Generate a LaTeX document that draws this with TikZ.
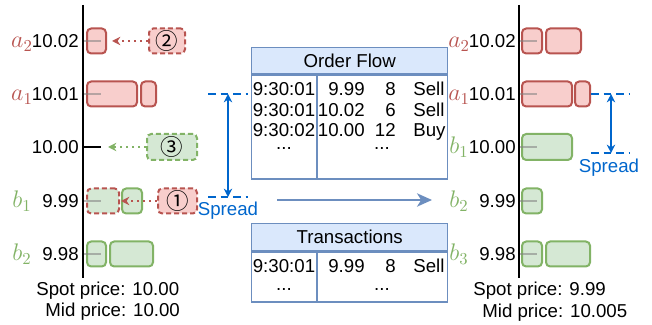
\documentclass[tikz,border=0pt]{standalone}
\usepackage{fontspec}
\setmainfont{Liberation Sans}
\newfontfamily\circfont{Noto Sans CJK SC}
\usetikzlibrary{arrows.meta}
\definecolor{askfill}{HTML}{F8CECC}
\definecolor{askline}{HTML}{B85450}
\definecolor{bidfill}{HTML}{D5E8D4}
\definecolor{bidline}{HTML}{82B366}
\definecolor{tabfill}{HTML}{DAE8FC}
\definecolor{tabline}{HTML}{6C8EBF}
\definecolor{sprd}{HTML}{0066CC}

\begin{document}
\begin{tikzpicture}[x=0.6pt, y=-0.6pt, every node/.style={font=\fontsize{11.2}{13.4}\selectfont, inner sep=0pt}, >={Stealth[length=5pt, width=5pt]}, bar/.style={draw, line width=1.2pt, rounded corners=2.5pt, minimum height=15pt, anchor=west}, ask/.style={bar, fill=askfill, draw=askline, minimum width={(#1-2)*0.6pt}}, bid/.style={bar, fill=bidfill, draw=bidline, minimum width={(#1-2)*0.6pt}}, ev/.style={dash pattern=on 3pt off 1.8pt, font=\circfont\fontsize{13.5}{15}\selectfont}, flow/.style={->, line width=1.2pt, dash pattern=on 1.2pt off 2.4pt}, lvl/.style={anchor=base east}, sym/.style={anchor=base, font=\fontsize{14}{16}\selectfont}, tick/.style={gray, opacity=.55, line width=1.2pt}, axis/.style={line width=1.5pt}, sp/.style={sprd, line width=1.2pt, dash pattern=on 4.5pt off 3pt}, thead/.style={draw=tabline, fill=tabfill, line width=.8pt, minimum width=117.6pt, minimum height=15.6pt, anchor=north west}, tbody/.style={draw=tabline, line width=.8pt, minimum width=117.6pt, anchor=north}, cell/.style={anchor=base}]
	\useasboundingbox (0,0) rectangle (652,325);
	% book before
	\node[ask=21] (la2a) at (86,41) {};
	\node[ask=52] (la1a) at (86,94) {};
	\node[ask=17] (la1b) at (140,94) {};
	\node[bid=34, draw=askline, ev] (lb1a) at (86,201) {};
	\node[bid=22] (lb1b) at (121,201) {};
	\node[bid=21] (lb2a) at (86,254) {};
	\node[bid=45] (lb2b) at (109,254) {};
	\foreach \y in {41,94,201,254} {\draw[tick] (84,\y) -- (101,\y);}
	\draw[axis] (83,147) -- (101,147);
	\draw[axis] (83,5) -- (83,278);
	\foreach \y/\p in {41/10.02, 94/10.01, 147/10.00, 201/9.99, 254/9.98} {\node[lvl] (lp\y) at (79,\y+6.7) {\p};}
	\foreach \y/\s/\c in {41/a_2/askline, 94/a_1/askline, 201/b_1/bidline, 254/b_2/bidline} {\node[sym, text=\c] (ls\y) at (22,\y+6.7) {$\s$};}
	\node[ask=38, ev] (e2) at (148,41) {②};
	\node[bid=52, ev, minimum height=15.6pt] (e3) at (146,147) {③};
	\node[ask=41, ev] (e1) at (157,201) {①};
	\coordinate (m0) at (108,147);
	\draw[flow, askline] (e2) -- ([xshift=3pt]la2a.east);
	\draw[flow, bidline] (e3) -- (m0);
	\draw[flow, askline] (e1) -- (lb1b.west);
	\coordinate (sl1) at (208,94); \coordinate (sl2) at (248,94); \coordinate (sl3) at (208,197); \coordinate (sl4) at (248,197);
	\coordinate (sa) at (228,94); \coordinate (sb) at (228,197);
	\draw[sp] (sl1) -- (sl2); \draw[sp] (sl3) -- (sl4);
	\draw[<->, sprd, line width=1.2pt] (sa) -- (sb);
	\node[anchor=base, text=sprd] (spl) at (228,216) {Spread};
	\node[anchor=base west] (lspot) at (36,295) {Spot price: 10.00};
	\node[anchor=base west] (lmid) at (45,316) {Mid price: 10.00};
	% tables
	\node[thead] (ofh) at (251,47) {Order Flow};
	\node[tbody, minimum height=62.4pt] (ofb) at (ofh.south) {};
	\draw[tabline, line width=.8pt] ([xshift=39.6pt]ofb.north west) -- ([xshift=39.6pt]ofb.south west);
	\foreach \y/\t/\p/\q/\s [count=\i] in {96/9:30:01/9.99/8/Sell, 117/9:30:01/10.02/6/Sell, 137/9:30:02/10.00/12/Buy} {\node[cell] (oft\i) at (284,\y) {\t}; \node[anchor=base east] (ofp\i) at (365,\y) {\p}; \node[anchor=base east] (ofq\i) at (396,\y) {\q}; \node[anchor=base west] (ofs\i) at (413,\y) {\s};}
	\node[cell] (ofd1) at (284,150) {...}; \node[cell] (ofd2) at (382,150) {...};
	\node[thead, minimum height=16.2pt] (trh) at (251,223) {Transactions};
	\node[tbody, minimum height=30pt] (trb) at (trh.south) {};
	\draw[tabline, line width=.8pt] ([xshift=39.6pt]trb.north west) -- ([xshift=39.6pt]trb.south west);
	\node[cell] (trt1) at (284,272) {9:30:01}; \node[anchor=base east] (trp1) at (365,272) {9.99}; \node[anchor=base east] (trq1) at (396,272) {8}; \node[anchor=base west] (trs1) at (413,272) {Sell};
	\node[cell] (trd1) at (284,290) {...}; \node[cell] (trd2) at (382,290) {...};
	\coordinate (mv1) at (277,200); \coordinate (mv2) at (432,200);
	\draw[tabline, line width=1.2pt, -{Stealth[length=9pt, width=8pt, inset=2.5pt]}] (mv1) -- (mv2);
	% book after
	\node[ask=22] (ra2a) at (521,41) {};
	\node[ask=37] (ra2b) at (545,41) {};
	\node[ask=52] (ra1a) at (521,94) {};
	\node[ask=17] (ra1b) at (574,94) {};
	\node[bid=52, minimum height=15.6pt] (rb1a) at (521,147) {};
	\node[bid=22] (rb2a) at (521,201) {};
	\node[bid=22] (rb3a) at (521,254) {};
	\node[bid=46] (rb3b) at (545,254) {};
	\foreach \y in {41,94,147,201,254} {\draw[tick] (520,\y) -- (537,\y);}
	\draw[axis] (519,5) -- (519,278);
	\foreach \y/\p in {41/10.02, 94/10.01, 147/10.00, 201/9.99, 254/9.98} {\node[lvl] (rp\y) at (516,\y+6.7) {\p};}
	\foreach \y/\s/\c in {41/a_2/askline, 94/a_1/askline, 147/b_1/bidline, 201/b_2/bidline, 254/b_3/bidline} {\node[sym, text=\c] (rs\y) at (459,\y+6.7) {$\s$};}
	\coordinate (sr1) at (591,94); \coordinate (sr2) at (630,94); \coordinate (sr3) at (591,153); \coordinate (sr4) at (630,153);
	\coordinate (sc) at (611,94); \coordinate (sd) at (611,153);
	\draw[sp] (sr1) -- (sr2); \draw[sp] (sr3) -- (sr4);
	\draw[<->, sprd, line width=1.2pt] (sc) -- (sd);
	\node[anchor=base, text=sprd] (spr) at (609,173) {Spread};
	\node[anchor=base west] (rspot) at (473,295) {Spot price: 9.99};
	\node[anchor=base west] (rmid) at (482,317) {Mid price: 10.005};
\end{tikzpicture}
\end{document}
